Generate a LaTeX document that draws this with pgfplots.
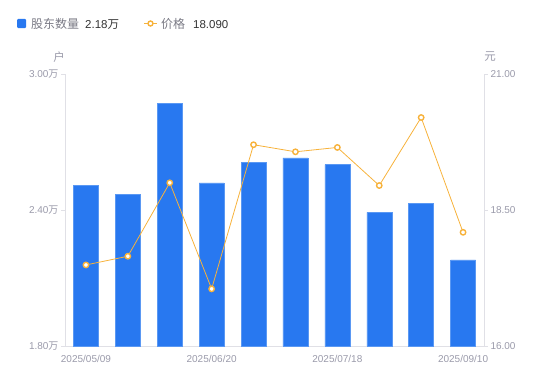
\documentclass[border=0pt]{standalone}
\usepackage{fontspec}
\usepackage{pgfplots}
\pgfplotsset{compat=1.18}
\setmainfont{Liberation Sans}
\newfontfamily\cjk{Noto Sans CJK SC}
\definecolor{barblue}{HTML}{2878F0}
\definecolor{baredge}{HTML}{5A98F3}
\definecolor{lineorange}{HTML}{F7B23B}
\definecolor{axisgray}{HTML}{E0E0E6}
\definecolor{ticktext}{HTML}{9A9AAA}
\definecolor{legname}{HTML}{7A7A85}
\definecolor{legval}{HTML}{333333}
\begin{document}
\begin{tikzpicture}[x=1bp,y=1bp]
\useasboundingbox (0,0) rectangle (550,381);
\begin{axis}[
  at={(65bp,35bp)}, anchor=south west,
  scale only axis, width=419bp, height=272bp,
  xmin=-0.5, xmax=9.5, ymin=1.8, ymax=3.0,
  axis y line*=left, axis x line*=bottom,
  axis line style={axisgray, line width=0.8bp},
  ytick={1.8,2.4,3.0},
  yticklabels={1.80{\cjk 万},2.40{\cjk 万},3.00{\cjk 万}},
  xtick={0,3,6,9},
  xticklabels={2025/05/09,2025/06/20,2025/07/18,2025/09/10},
  x tick style={draw=none},
  y tick style={axisgray, line width=0.8bp},
  tick align=outside, major tick length=4bp,
  /pgf/number format/assume math mode=true,
  ticklabel style={text=ticktext, font=\fontsize{10bp}{12bp}\selectfont},
  yticklabel style={xshift=1bp},
  xticklabel style={yshift=-2bp},
  clip=true,
]
\addplot[ybar, bar width=25bp, fill=barblue, draw=baredge, line width=0.5bp]
  coordinates {(0,2.51) (1,2.47) (2,2.87) (3,2.52) (4,2.61) (5,2.63) (6,2.60) (7,2.39) (8,2.43) (9,2.18)};
\end{axis}
\begin{axis}[
  at={(65bp,35bp)}, anchor=south west,
  scale only axis, width=419bp, height=272bp,
  xmin=-0.5, xmax=9.5, ymin=16, ymax=21,
  axis y line*=right, axis x line=none,
  axis line style={axisgray, line width=0.8bp},
  ytick={16,18.5,21},
  yticklabels={16.00,18.50,21.00},
  y tick style={axisgray, line width=0.8bp},
  tick align=outside, major tick length=4bp,
  /pgf/number format/assume math mode=true,
  ticklabel style={text=ticktext, font=\fontsize{10bp}{12bp}\selectfont},
  yticklabel style={xshift=-1bp},
  clip=false,
]
\addplot[lineorange, line width=0.8bp, mark=*, mark size=2.7bp,
  mark options={fill=white, draw=lineorange, line width=1.4bp}]
  coordinates {(0,17.49) (1,17.65) (2,19.00) (3,17.05) (4,19.70) (5,19.57) (6,19.65) (7,18.95) (8,20.20) (9,18.09)};
\end{axis}
% units
\node[text=ticktext, font=\fontsize{11.5bp}{13bp}\selectfont\cjk] at (59,324) {户};
\node[text=ticktext, font=\fontsize{11.5bp}{13bp}\selectfont\cjk] at (490,324) {元};
% legend
\fill[barblue, rounded corners=1bp] (17,353) rectangle (26,362);
\node[anchor=base west, inner sep=0, text=legname, font=\fontsize{12bp}{14bp}\selectfont\cjk] at (31,353) {股东数量};
\node[anchor=base west, inner sep=0, text=legval, font=\fontsize{11.5bp}{14bp}\selectfont] at (85,353) {2.18{\cjk 万}};
\draw[lineorange, line width=1bp] (144,357.5) -- (157,357.5);
\draw[lineorange, fill=white, line width=1.4bp] (150.5,357.5) circle (2.5);
\node[anchor=base west, inner sep=0, text=legname, font=\fontsize{12bp}{14bp}\selectfont\cjk] at (161,353) {价格};
\node[anchor=base west, inner sep=0, text=legval, font=\fontsize{11.5bp}{14bp}\selectfont] at (193,353) {18.090};
\end{tikzpicture}
\end{document}
